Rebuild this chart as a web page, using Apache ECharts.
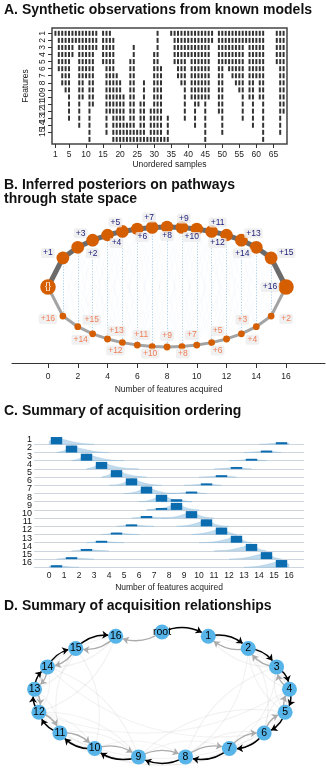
<!DOCTYPE html>
<html><head><meta charset="utf-8">
<script src="https://cdn.jsdelivr.net/npm/echarts@6/dist/echarts.min.js"></script>
<style>html,body{margin:0;padding:0;background:#fff}#c{width:326px;height:774px}</style>
</head><body><div id="c"></div>
<script>
// ================= DATA =================
// Panel A: synthetic observations (68 samples x 16 features)
const sampleIds = Array.from({length: 68}, (_, i) => i + 1);
// F = features 1..n present (forward model), R = features (17-n)..16 present (reverse model), '-' = none
const sampleDirection = [
  'F','F','F','F','F','F','F','F','F','F','F','F','F','-','F','F','F',
  'R','R','R','R','R','R','R','R','R','R','R','R','R','R','R','R','R',
  'F','F','F','F','F','F','F','F','F','F','F','F','F','-','F','F','F',
  'F','F','F','F','F','F','F','F','F','F','F','-','-','-','F','F','F'
];
const sampleFeatureCount = [
  1,6,8,9,13,4,2,14,10,7,16,11,3,0,5,15,12,
  15,10,9,7,3,12,14,2,6,9,1,5,13,16,11,1,4,
  1,5,7,8,13,4,10,14,11,10,16,10,2,0,12,15,5,
  6,7,8,9,13,2,10,14,7,10,16,0,0,0,5,15,12
];
const featureTicksA = [1,2,3,4,5,6,7,8,9,10,11,12,13,14,15,16];
const sampleTicksA = [1,5,10,15,20,25,30,35,40,45,50,55,60,65];

// Panel B: posterior pathways through state space
const stepTicksB = [0,2,4,6,8,10,12,14,16];
const upperPathFeature = [1,2,3,4,5,6,7,8,9,10,11,12,13,14,15,16];
const lowerPathFeature = [16,15,14,13,12,11,10,9,8,7,6,5,4,3,2,1];
const upperStateProb = [0.76,0.76,0.75,0.74,0.76,0.74,0.76,0.74,0.76,0.74,0.76,0.74,0.76,0.76,0.77];
const lowerStateProb = [0.24,0.24,0.24,0.25,0.24,0.25,0.24,0.25,0.24,0.25,0.24,0.25,0.24,0.24,0.24];
const upperTransProb = [0.76,0.76,0.76,0.76,0.76,0.76,0.76,0.76,0.76,0.76,0.76,0.76,0.76,0.76,0.76,0.76];
const lowerTransProb = [0.24,0.24,0.24,0.24,0.24,0.24,0.24,0.24,0.24,0.24,0.24,0.24,0.24,0.24,0.24,0.24];

// Panel C: acquisition ordering
const orderFeatures = ['1','2','3','4','5','6','7','8','9','10','11','12','13','14','15','16'];
const orderTicksC = [0,1,2,3,4,5,6,7,8,9,10,11,12,13,14,15,16];
const mainStep = [1,2,3,4,5,6,7,8,9,10,11,12,13,14,15,16];
const mainStepProb = [0.77,0.74,0.74,0.74,0.74,0.74,0.74,0.74,0.74,0.74,0.74,0.74,0.74,0.74,0.74,0.77];
const altStep = [16,15,14,13,12,11,10,9,8,7,6,5,4,3,2,1];
const altStepProb = [0.22,0.2,0.2,0.2,0.2,0.2,0.2,0.26,0.2,0.22,0.2,0.2,0.2,0.2,0.2,0.22];
const mainDensity = [
  [[0,0.3],[0.5,0.72],[1,0.5],[1.5,0.3],[2,0.14],[2.5,0.05],[3,0]],
  [[0.5,0],[1,0.2],[1.5,0.72],[2,0.48],[2.5,0.28],[3,0.12],[3.5,0.04],[4,0]],
  [[1.5,0],[2,0.2],[2.5,0.72],[3,0.46],[3.5,0.26],[4,0.1],[4.5,0.03],[5,0]],
  [[2.5,0],[3,0.22],[3.5,0.72],[4,0.45],[4.5,0.24],[5,0.1],[5.5,0.03],[6,0]],
  [[3.5,0],[4,0.25],[4.5,0.72],[5,0.42],[5.5,0.2],[6,0.08],[6.5,0]],
  [[4,0],[4.5,0.06],[5,0.28],[5.5,0.72],[6,0.42],[6.5,0.18],[7,0.06],[7.5,0]],
  [[5,0],[5.5,0.08],[6,0.3],[6.5,0.72],[7,0.4],[7.5,0.16],[8,0.05],[8.5,0]],
  [[6,0],[6.5,0.08],[7,0.32],[7.5,0.72],[8,0.38],[8.5,0.14],[9,0.04],[9.5,0]],
  [[6.5,0],[7,0.04],[7.5,0.14],[8,0.38],[8.5,0.72],[9,0.32],[9.5,0.08],[10,0]],
  [[7.5,0],[8,0.05],[8.5,0.16],[9,0.4],[9.5,0.72],[10,0.3],[10.5,0.08],[11,0]],
  [[8.5,0],[9,0.06],[9.5,0.18],[10,0.42],[10.5,0.72],[11,0.28],[11.5,0.06],[12,0]],
  [[9.5,0],[10,0.08],[10.5,0.2],[11,0.42],[11.5,0.72],[12,0.25],[12.5,0]],
  [[10,0],[10.5,0.03],[11,0.1],[11.5,0.24],[12,0.45],[12.5,0.72],[13,0.22],[13.5,0]],
  [[11,0],[11.5,0.03],[12,0.1],[12.5,0.26],[13,0.46],[13.5,0.72],[14,0.2],[14.5,0]],
  [[12,0],[12.5,0.04],[13,0.12],[13.5,0.28],[14,0.48],[14.5,0.72],[15,0.2],[15.5,0]],
  [[13,0],[13.5,0.05],[14,0.14],[14.5,0.3],[15,0.5],[15.5,0.72],[16,0.3]]
];
const altDensity = [
  [[14,0],[14.5,0.04],[15,0.1],[15.5,0.2],[16,0.1]],
  [[13,0],[13.5,0.04],[14,0.1],[14.5,0.19],[15,0.09],[15.5,0]],
  [[12,0],[12.5,0.04],[13,0.1],[13.5,0.19],[14,0.08],[14.5,0]],
  [[11,0],[11.5,0.04],[12,0.1],[12.5,0.19],[13,0.08],[13.5,0]],
  [[10,0],[10.5,0.04],[11,0.1],[11.5,0.19],[12,0.08],[12.5,0]],
  [[9,0],[9.5,0.04],[10,0.1],[10.5,0.19],[11,0.08],[11.5,0]],
  [[8,0],[8.5,0.04],[9,0.1],[9.5,0.19],[10,0.08],[10.5,0]],
  [[7.5,0],[8,0.1],[8.5,0.24],[9,0.1],[9.5,0]],
  [[6.5,0],[7,0.1],[7.5,0.2],[8,0.1],[8.5,0]],
  [[5.5,0],[6,0.08],[6.5,0.19],[7,0.1],[7.5,0.04],[8,0]],
  [[4.5,0],[5,0.08],[5.5,0.19],[6,0.1],[6.5,0.04],[7,0]],
  [[3.5,0],[4,0.08],[4.5,0.19],[5,0.1],[5.5,0.04],[6,0]],
  [[2.5,0],[3,0.08],[3.5,0.19],[4,0.1],[4.5,0.04],[5,0]],
  [[1.5,0],[2,0.08],[2.5,0.19],[3,0.1],[3.5,0.04],[4,0]],
  [[0.5,0],[1,0.09],[1.5,0.19],[2,0.1],[2.5,0.04],[3,0]],
  [[0,0.1],[0.5,0.2],[1,0.1],[1.5,0.04],[2,0]]
];

// Panel D: acquisition relationships
const relNodes = ['root','1','2','3','4','5','6','7','8','9','10','11','12','13','14','15','16'];
const strongEdges = [['root','1'],['1','2'],['2','3'],['3','4'],['4','5'],['5','6'],['6','7'],['7','8'],['8','9'],['9','10'],['10','11'],['11','12'],['12','13'],['13','14'],['14','15'],['15','16']];
const weakEdges = [['root','16'],['16','15'],['15','14'],['14','13'],['13','12'],['12','11'],['11','10'],['10','9'],['9','8'],['8','7'],['7','6'],['6','5'],['5','4'],['4','3'],['3','2'],['2','1']];
const faintEdges = [['1','3'],['2','4'],['3','5'],['4','6'],['5','7'],['6','8'],['7','9'],['8','10'],['9','11'],['10','12'],['11','13'],['12','14'],['13','15'],['14','16'],
  ['3','1'],['4','2'],['5','3'],['6','4'],['7','5'],['8','6'],['9','7'],['10','8'],['11','9'],['12','10'],['13','11'],['14','12'],['15','13'],['16','14'],
  ['1','4'],['4','7'],['7','10'],['10','13'],['13','16'],['16','12'],['12','9'],['9','5'],['5','2'],['2','6'],['6','11'],['11','15'],['15','10'],['8','3'],['3','7'],['14','9'],['2','8'],['4','12'],['6','14']];

// ================= LAYOUT / STYLE =================
const FONT = '"Liberation Sans", Arial, Helvetica, sans-serif';
const chart = echarts.init(document.getElementById('c'));

// Panel A cells
const obsCells = [];
sampleIds.forEach((s, i) => {
  const n = sampleFeatureCount[i], d = sampleDirection[i];
  featureTicksA.forEach(f => {
    const has = d === 'F' ? f <= n : (d === 'R' ? f >= 17 - n : false);
    if (has) obsCells.push([s, f]);
  });
});

// Panel B graph
const arcY = k => Math.sqrt(Math.max(0, 1 - Math.pow((k - 8) / 8, 2)));
const sizeOf = p => 4 + 11.5 * p;
const upperLabelOffset = [[-15,-5],[15,6],[-12,-7],[9,8],[-7,-9],[5,8],[-3,-10],[0,9],[2,-9],[-5,8],[6,-9],[-9,8],[12,-7],[-14,6],[15,-5],[-16,0]];
const lowerLabelOffset = [[-15,3],[14,-7],[-12,6],[9,-8],[-7,8],[4,-10],[-2,7],[0,-11],[1,7],[-5,-10],[6,8],[-9,-8],[11,6],[-14,-7],[15,3]];
function boxLabel(text, color, size, off) {
  return {show: true, position: [size / 2 + off[0], size / 2 + off[1]], align: 'center', verticalAlign: 'middle',
    formatter: text, color: color, fontSize: 8.5, fontFamily: FONT,
    backgroundColor: 'rgba(236,236,236,0.8)', padding: [1, 2, 0, 2], borderRadius: 2};
}
const ORANGE = '#d55e00';
const nodesB = [];
nodesB.push({name: 'empty', value: [0, 0], symbolSize: sizeOf(1), itemStyle: {color: ORANGE},
  label: {show: true, position: 'inside', formatter: () => '{}', color: '#fff', fontSize: 9, fontFamily: FONT}});
for (let k = 1; k <= 15; k++) {
  const s = sizeOf(upperStateProb[k - 1]);
  nodesB.push({name: 'u' + k, value: [k, arcY(k)], symbolSize: s, itemStyle: {color: ORANGE},
    label: boxLabel('+' + upperPathFeature[k - 1], '#1d1d7a', s, upperLabelOffset[k - 1])});
}
nodesB.push({name: 'full', value: [16, 0], symbolSize: sizeOf(1), itemStyle: {color: ORANGE},
  label: boxLabel('+' + upperPathFeature[15], '#1d1d7a', sizeOf(1), upperLabelOffset[15])});
for (let k = 1; k <= 15; k++) {
  const s = sizeOf(lowerStateProb[k - 1]);
  nodesB.push({name: 'l' + k, value: [k, -arcY(k)], symbolSize: s, itemStyle: {color: ORANGE},
    label: boxLabel('+' + lowerPathFeature[k - 1], '#ef7f58', s, lowerLabelOffset[k - 1])});
}
const linksB = [];
const uName = k => k === 0 ? 'empty' : (k === 16 ? 'full' : 'u' + k);
const lName = k => k === 0 ? 'empty' : (k === 16 ? 'full' : 'l' + k);
for (let k = 0; k < 16; k++) {
  for (const d of [1, 2, 3]) {
    if (k + d > 16) continue;
    linksB.push({source: uName(k), target: lName(k + d), lineStyle: {color: 'rgba(175,195,215,0.2)', width: 0.6}});
    linksB.push({source: lName(k), target: uName(k + d), lineStyle: {color: 'rgba(175,195,215,0.2)', width: 0.6}});
  }
}
for (let k = 1; k <= 15; k++) {
  linksB.push({source: 'u' + k, target: 'l' + k, lineStyle: {color: '#8cbde0', width: 0.8, type: [1.2, 1.6], opacity: 0.9}});
}
for (let k = 0; k < 16; k++) {
  linksB.push({source: lName(k), target: lName(k + 1), lineStyle: {color: '#a3a3a3', width: 2 + 4 * lowerTransProb[k], opacity: 1}});
}
for (let k = 0; k < 16; k++) {
  linksB.push({source: uName(k), target: uName(k + 1), lineStyle: {color: '#6b6b6b', width: 2 + 4 * upperTransProb[k], opacity: 1}});
}

// Panel D graph
const cxD = 162, cyD = 695, rxD = 128, ryD = 63;
const posD = relNodes.map((n, j) => {
  const a = (90 - j * 360 / relNodes.length) * Math.PI / 180;
  return [cxD + rxD * Math.cos(a), cyD - ryD * Math.sin(a)];
});
const xsD = posD.map(p => p[0]), ysD = posD.map(p => p[1]);
const boxD = {left: Math.min(...xsD), top: Math.min(...ysD), width: Math.max(...xsD) - Math.min(...xsD), height: Math.max(...ysD) - Math.min(...ysD)};
const nodesD = relNodes.map((n, j) => ({name: n, x: posD[j][0], y: posD[j][1]}));
const linksD = [];
faintEdges.forEach(([s, t]) => linksD.push({source: s, target: t, symbol: ['none', 'none'],
  lineStyle: {color: 'rgba(0,0,0,0.05)', width: 1.2, curveness: 0.25, opacity: 1}}));
weakEdges.forEach(([s, t]) => linksD.push({source: s, target: t, lineStyle: {color: '#ababab', width: 1.4, curveness: 0.28, opacity: 1}}));
strongEdges.forEach(([s, t]) => linksD.push({source: s, target: t, lineStyle: {color: '#000', width: 1.5, curveness: 0.28, opacity: 1}}));

// Panel C custom renderers
const ridgeShapes = [];
orderFeatures.forEach((f, r) => {
  ridgeShapes.push({row: r, pts: mainDensity[r]});
  ridgeShapes.push({row: r, pts: altDensity[r]});
});
const barShapes = [];
orderFeatures.forEach((f, r) => {
  barShapes.push({row: r, step: mainStep[r], p: mainStepProb[r]});
  barShapes.push({row: r, step: altStep[r], p: altStepProb[r]});
});
function unitPx(api) { return Math.abs(api.coord([0, 1])[1] - api.coord([0, 0])[1]) * 1.15; }
function renderRidge(params, api) {
  const s = ridgeShapes[params.dataIndex];
  const u = unitPx(api);
  const base = api.coord([0, s.row])[1];
  const pts = s.pts.map(([k, d]) => { const c = api.coord([k, s.row]); return [c[0], c[1] - d * u]; });
  const x0 = pts[0][0], x1 = pts[pts.length - 1][0];
  const poly = [[x0, base]].concat(pts, [[x1, base]]);
  return {type: 'polygon', shape: {points: poly, smooth: 0.35, smoothConstraint: [[x0, base - 50], [x1, base]]},
    style: {fill: 'rgba(150,196,226,0.6)', stroke: 'rgba(130,180,215,0.5)', lineWidth: 0.5}};
}
function renderBar(params, api) {
  const s = barShapes[params.dataIndex];
  const u = unitPx(api);
  const a = api.coord([s.step - 1 + 0.12, s.row]);
  const b = api.coord([s.step - 0.12, s.row]);
  const h = s.p * u;
  return {type: 'rect', shape: {x: a[0], y: a[1] - h, width: b[0] - a[0], height: h}, style: {fill: '#0b6cb0'}};
}

const titleStyle = {fontSize: 14, fontWeight: 'bold', fontFamily: FONT, color: '#111', lineHeight: 14};
const axTxt = {fontSize: 8.5, fontFamily: FONT, color: '#222'};

const option = {
  animation: false,
  textStyle: {fontFamily: FONT},
  title: [
    {text: 'A. Synthetic observations from known models', left: 4, top: 3, padding: 0, textStyle: titleStyle},
    {text: 'B. Inferred posteriors on pathways\nthrough state space', left: 4, top: 178, padding: 0, textStyle: titleStyle},
    {text: 'C. Summary of acquisition ordering', left: 4, top: 404, padding: 0, textStyle: titleStyle},
    {text: 'D. Summary of acquisition relationships', left: 4, top: 599, padding: 0, textStyle: titleStyle}
  ],
  grid: [
    {left: 52, top: 28, width: 235, height: 116, show: true, borderColor: '#444', borderWidth: 1.5, backgroundColor: 'transparent'},
    {left: 12, top: 211, width: 313, height: 152},
    {left: 34, top: 444.3, width: 270, height: 123}
  ],
  xAxis: [
    {gridIndex: 0, type: 'value', min: 0, max: 69, axisLine: {show: false},
      axisTick: {show: true, customValues: sampleTicksA, length: 4, lineStyle: {color: '#333'}},
      axisLabel: Object.assign({customValues: sampleTicksA, margin: 6}, axTxt), splitLine: {show: false},
      name: 'Unordered samples', nameLocation: 'middle', nameGap: 15, nameTextStyle: axTxt},
    {gridIndex: 1, type: 'value', min: -2.42, max: 18.62,
      axisLine: {show: true, onZero: false, lineStyle: {color: '#333', width: 1}},
      axisTick: {show: true, customValues: stepTicksB, length: 5, lineStyle: {color: '#333'}},
      axisLabel: Object.assign({customValues: stepTicksB, margin: 9}, axTxt), splitLine: {show: false},
      name: 'Number of features acquired', nameLocation: 'middle', nameGap: 22, nameTextStyle: axTxt},
    {gridIndex: 2, type: 'value', min: -1, max: 17, axisLine: {show: false}, axisTick: {show: false},
      axisLabel: Object.assign({customValues: orderTicksC, margin: 4}, axTxt), splitLine: {show: false},
      name: 'Number of features acquired', nameLocation: 'middle', nameGap: 16, nameTextStyle: axTxt}
  ],
  yAxis: [
    {gridIndex: 0, type: 'value', inverse: true, min: 0.25, max: 16.65, axisLine: {show: false},
      axisTick: {show: true, customValues: featureTicksA, length: 4, lineStyle: {color: '#333'}},
      axisLabel: Object.assign({customValues: featureTicksA, rotate: 90, margin: 5}, axTxt), splitLine: {show: false},
      name: 'Features', nameLocation: 'middle', nameGap: 20, nameRotate: 90, nameTextStyle: axTxt},
    {gridIndex: 1, type: 'value', min: -1.267, max: 1.267, show: false},
    {gridIndex: 2, type: 'category', data: orderFeatures, inverse: true, boundaryGap: false,
      axisLine: {show: false}, axisTick: {show: false},
      axisLabel: {interval: 0, fontSize: 9, fontFamily: FONT, color: '#111', margin: 2, verticalAlign: 'bottom', lineHeight: 9},
      splitLine: {show: true, interval: 0, lineStyle: {color: '#cdd6df', width: 1}}}
  ],
  series: [
    {type: 'scatter', xAxisIndex: 0, yAxisIndex: 0, data: obsCells, symbol: 'rect', symbolSize: [2, 5],
      itemStyle: {color: '#000'}, silent: true},
    {type: 'graph', coordinateSystem: 'cartesian2d', xAxisIndex: 1, yAxisIndex: 1, layout: 'none',
      data: nodesB, links: linksB, silent: true, label: {show: false}, labelLayout: {hideOverlap: false}},
    {type: 'custom', coordinateSystem: 'cartesian2d', xAxisIndex: 2, yAxisIndex: 2,
      data: ridgeShapes.map((s, i) => [i, s.row]), renderItem: renderRidge, silent: true, clip: false},
    {type: 'custom', coordinateSystem: 'cartesian2d', xAxisIndex: 2, yAxisIndex: 2,
      data: barShapes.map((s, i) => [i, s.row]), renderItem: renderBar, silent: true, clip: false},
    {type: 'graph', layout: 'none', left: boxD.left, top: boxD.top, width: boxD.width, height: boxD.height,
      data: nodesD, links: linksD, symbolSize: 15, itemStyle: {color: '#56b4e9'},
      edgeSymbol: ['none', 'arrow'], edgeSymbolSize: [0, 6], silent: true, roam: false,
      label: {show: true, position: 'inside', color: '#000', fontSize: 10.5, fontFamily: FONT}}
  ]
};
chart.setOption(option);
</script></body></html>
